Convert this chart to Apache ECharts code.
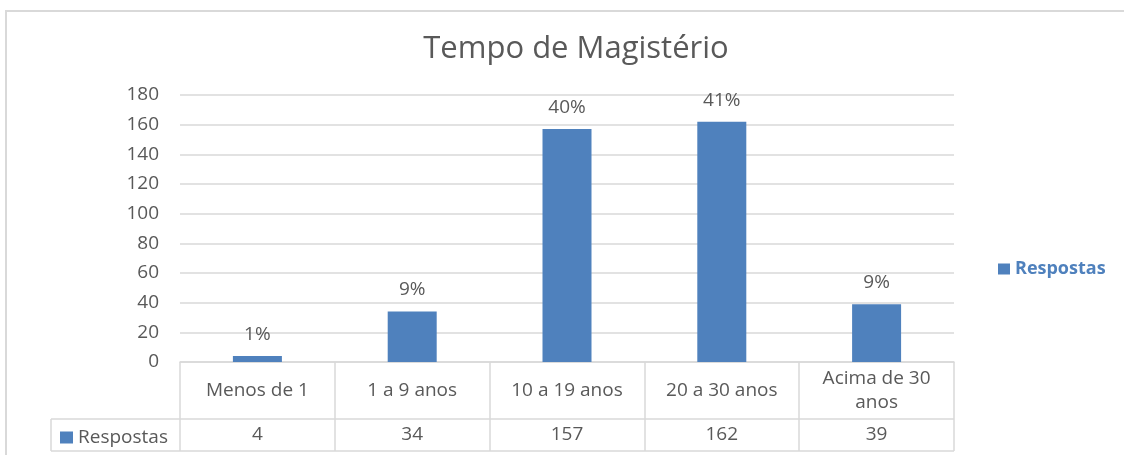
<!DOCTYPE html>
<html>
<head>
<meta charset="utf-8">
<script src="https://cdn.jsdelivr.net/npm/echarts@6/dist/echarts.min.js"></script>
<style>
  html, body { margin: 0; padding: 0; background: #fff; }
  #tempoChart { width: 1124px; height: 455px; }
</style>
</head>
<body>
<div id="tempoChart"></div>
<script>
const categories = ['Menos de 1', '1 a 9 anos', '10 a 19 anos', '20 a 30 anos', 'Acima de 30\nanos'];
const respostas = [4, 34, 157, 162, 39];
const percentLabels = ['1%', '9%', '40%', '41%', '9%'];
const yTicks = [0, 180, 20];

const font = '"Open Sans", Lato, sans-serif';
const grey = '#595959';
const lineGrey = '#d9d9d9';
const blue = '#4f81bd';

let chart = echarts.init(document.getElementById('tempoChart'), null, { renderer: 'canvas' });

chart.setOption({
  animation: false,
  textStyle: { fontFamily: font },
  title: {
    text: 'Tempo de Magistério',
    left: 571,
    top: 29,
    textAlign: 'center',
    textStyle: { fontSize: 31, fontWeight: 'normal', color: grey, fontFamily: font }
  },
  legend: [
    // legend on the right
    {
      left: 993,
      top: 255,
      icon: 'rect',
      itemWidth: 12,
      itemHeight: 11,
      itemGap: 6,
      selectedMode: false,
      textStyle: { color: blue, fontWeight: 'bold', fontSize: 18, fontFamily: font },
      data: ['Respostas']
    },
    // legend key inside the data table
    {
      left: 55,
      top: 423,
      icon: 'rect',
      itemWidth: 13,
      itemHeight: 12,
      itemGap: 5,
      selectedMode: false,
      textStyle: { color: grey, fontSize: 19, fontFamily: font },
      data: ['Respostas']
    }
  ],
  grid: { left: 180, right: 170, top: 95, bottom: 93 },
  xAxis: [
    {
      type: 'category',
      data: categories,
      axisLine: { lineStyle: { color: lineGrey, width: 1.5 } },
      axisTick: { show: true, length: 89, lineStyle: { color: lineGrey, width: 1.5 } },
      axisLabel: {
        color: grey, fontSize: 19, margin: 29, verticalAlign: 'middle',
        lineHeight: 24, interval: 0, fontFamily: font
      }
    },
    {
      // values row of the data table
      type: 'category',
      position: 'bottom',
      data: categories,
      axisLine: { show: false },
      axisTick: { show: false },
      axisLabel: {
        color: grey, fontSize: 19, margin: 73, verticalAlign: 'middle', interval: 0,
        fontFamily: font,
        formatter: function (v, i) { return String(respostas[i]); }
      }
    }
  ],
  yAxis: {
    type: 'value',
    min: yTicks[0],
    max: yTicks[1],
    interval: yTicks[2],
    axisLine: { show: false },
    axisTick: { show: false },
    splitLine: { lineStyle: { color: lineGrey, width: 1.5 } },
    axisLabel: { color: grey, fontSize: 19, margin: 21, fontFamily: font }
  },
  series: [
    {
      name: 'Respostas',
      type: 'bar',
      data: respostas,
      barWidth: 49,
      itemStyle: { color: blue },
      label: {
        show: true,
        position: 'top',
        distance: 12,
        color: grey,
        fontSize: 19,
        fontFamily: font,
        formatter: function (p) { return percentLabels[p.dataIndex]; }
      }
    }
  ],
  graphic: [
    // outer chart border
    {
      type: 'rect', silent: true, z: -1,
      shape: { x: 6, y: 11, width: 1200, height: 500 },
      style: { fill: null, stroke: lineGrey, lineWidth: 2 }
    },
    // data table lines
    { type: 'line', silent: true, shape: { x1: 51, y1: 419, x2: 954, y2: 419 }, style: { stroke: lineGrey, lineWidth: 1.5 } },
    { type: 'line', silent: true, shape: { x1: 51, y1: 451, x2: 954, y2: 451 }, style: { stroke: lineGrey, lineWidth: 1.5 } },
    { type: 'line', silent: true, shape: { x1: 51, y1: 419, x2: 51, y2: 451 }, style: { stroke: lineGrey, lineWidth: 1.5 } }
  ]
});

window.addEventListener('resize', () => {
  chart.resize();
});
</script>
</body>
</html>
